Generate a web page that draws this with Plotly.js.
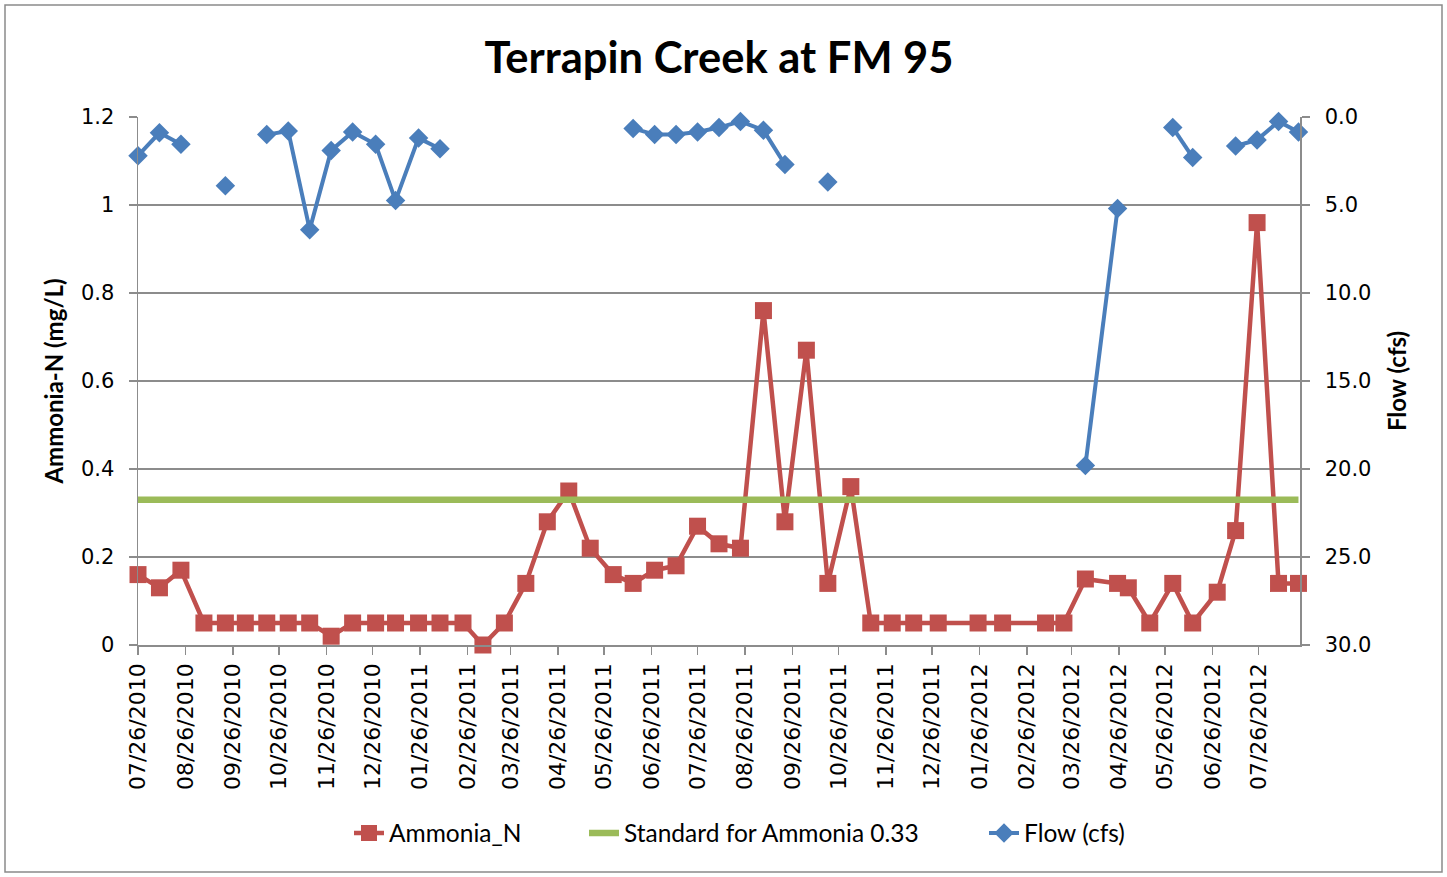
<!DOCTYPE html>
<html>
<head>
<meta charset="utf-8">
<script src="https://cdn.plot.ly/plotly-3.0.1.min.js"></script>
<style>
  html, body { margin: 0; padding: 0; background: #ffffff; }
  #chart { width: 1447px; height: 877px; }
</style>
</head>
<body>
<div id="chart"></div>
<script>
// Sample dates
const dates = [
  '2010-07-26','2010-08-09','2010-08-23','2010-09-07','2010-09-21','2010-10-04','2010-10-18',
  '2010-11-01','2010-11-15','2010-11-29','2010-12-13','2010-12-28','2011-01-10','2011-01-25',
  '2011-02-08','2011-02-23','2011-03-08','2011-03-22','2011-04-05','2011-04-19','2011-05-03',
  '2011-05-17','2011-06-01','2011-06-14','2011-06-28','2011-07-12','2011-07-26','2011-08-09',
  '2011-08-23','2011-09-07','2011-09-21','2011-10-05','2011-10-19','2011-11-03','2011-11-16',
  '2011-11-30','2011-12-14','2011-12-30','2012-01-25','2012-02-10','2012-03-09','2012-03-21',
  '2012-04-04','2012-04-25','2012-05-02','2012-05-16','2012-05-31','2012-06-13','2012-06-29',
  '2012-07-11','2012-07-25','2012-08-08','2012-08-21'
];

// Ammonia-N (mg/L)
const ammonia = [
  0.16,0.13,0.17,0.05,0.05,0.05,0.05,0.05,0.05,0.02,0.05,0.05,0.05,0.05,0.05,0.05,
  0,0.05,0.14,0.28,0.35,0.22,0.16,0.14,0.17,0.18,0.27,0.23,0.22,0.76,0.28,0.67,0.14,0.36,
  0.05,0.05,0.05,0.05,0.05,0.05,0.05,0.05,
  0.15,0.14,0.13,0.05,0.14,0.05,0.12,0.26,0.96,0.14,0.14
];

// Flow (cfs), null where not measured
const flow = [
  2.2,0.9,1.55,null,3.9,null,1.0,0.8,6.4,1.9,0.85,1.55,4.75,1.2,1.8,
  null,null,null,null,null,null,null,null,
  0.65,1.0,1.0,0.85,0.6,0.25,0.75,2.7,null,3.7,
  null,null,null,null,null,null,null,null,null,
  19.8,5.2,null,null,0.6,2.3,null,1.65,1.3,0.25,0.85
];

const standardValue = 0.33;
const standard = dates.map(() => standardValue);

// X-axis tick positions and labels
const tickDates = [
  '2010-07-26','2010-08-26','2010-09-26','2010-10-26','2010-11-26','2010-12-26',
  '2011-01-26','2011-02-26','2011-03-26','2011-04-26','2011-05-26','2011-06-26',
  '2011-07-26','2011-08-26','2011-09-26','2011-10-26','2011-11-26','2011-12-26',
  '2012-01-26','2012-02-26','2012-03-26','2012-04-26','2012-05-26','2012-06-26','2012-07-26'
];
const tickLabels = [
  '07/26/2010','08/26/2010','09/26/2010','10/26/2010','11/26/2010','12/26/2010',
  '01/26/2011','02/26/2011','03/26/2011','04/26/2011','05/26/2011','06/26/2011',
  '07/26/2011','08/26/2011','09/26/2011','10/26/2011','11/26/2011','12/26/2011',
  '01/26/2012','02/26/2012','03/26/2012','04/26/2012','05/26/2012','06/26/2012','07/26/2012'
];

const seriesNames = ['Ammonia_N', 'Standard for Ammonia 0.33', 'Flow (cfs)'];
const titleText = 'Terrapin Creek at FM 95';
const leftTitle = 'Ammonia-N (mg/L)';
const rightTitle = 'Flow (cfs)';

const tickFont = { family: 'DejaVu Sans', size: 22, color: '#000000' };
const calibriLike = 'Lato';
const gridColor = '#8c8c8c';

const L = 138, R = 1300, T = 117, B = 645;
const W = 1447, H = 877;
const pw = R - L, ph = B - T;
const px = v => (v - L) / pw;
const py = v => (B - v) / ph;

const traces = [
  {
    x: dates, y: ammonia, name: seriesNames[0], type: 'scatter', mode: 'lines+markers',
    line: { color: '#C0504D', width: 4.5 },
    marker: { symbol: 'square', size: 17, color: '#C0504D' },
    cliponaxis: false, yaxis: 'y', legend: 'legend'
  },
  {
    x: dates, y: standard, name: seriesNames[1], type: 'scatter', mode: 'lines',
    line: { color: '#9BBB59', width: 6.5 },
    cliponaxis: false, yaxis: 'y', legend: 'legend2'
  },
  {
    x: dates, y: flow, name: seriesNames[2], type: 'scatter', mode: 'lines+markers',
    line: { color: '#4A7EBB', width: 4 },
    marker: { symbol: 'diamond', size: 15, color: '#4A7EBB' },
    connectgaps: false, cliponaxis: false, yaxis: 'y2', legend: 'legend3'
  }
];

function legendAt(xPix) {
  return {
    orientation: 'h',
    x: px(xPix), xanchor: 'left', xref: 'paper',
    y: py(833), yanchor: 'middle', yref: 'paper',
    font: { family: calibriLike, size: 24.5, color: '#000000' },
    bgcolor: 'rgba(0,0,0,0)', borderwidth: 0
  };
}

const layout = {
  width: W, height: H,
  margin: { l: L, r: W - R, t: T, b: H - B, pad: 0 },
  paper_bgcolor: '#ffffff', plot_bgcolor: '#ffffff',
  showlegend: true,
  title: {
    text: '<b>' + titleText + '</b>',
    font: { family: calibriLike, size: 43.5, color: '#000000' },
    x: 0.5, xanchor: 'center', xref: 'paper',
    y: 1 - 58 / H, yanchor: 'middle', yref: 'container'
  },
  xaxis: {
    type: 'date',
    range: ['2010-07-26', '2012-08-22'],
    tickmode: 'array', tickvals: tickDates, ticktext: tickLabels,
    tickangle: -90,
    tickfont: tickFont,
    ticks: 'outside', ticklen: 8, tickwidth: 1.5, tickcolor: gridColor,
    showline: true, linecolor: gridColor, linewidth: 1.5,
    showgrid: false, zeroline: false,
    fixedrange: true
  },
  yaxis: {
    range: [0, 1.2], dtick: 0.2, tick0: 0,
    tickfont: { family: 'DejaVu Sans', size: 21, color: '#000000' }, ticklabelstandoff: 10,
    ticks: 'outside', ticklen: 8, tickwidth: 1.5, tickcolor: gridColor,
    showline: true, linecolor: gridColor, linewidth: 1.5,
    showgrid: true, gridcolor: gridColor, gridwidth: 1.5,
    zeroline: false,
    title: { text: '<b>' + leftTitle + '</b>', font: { family: calibriLike, size: 24, color: '#000000' }, standoff: 10 },
    fixedrange: true
  },
  yaxis2: {
    overlaying: 'y', side: 'right',
    range: [30, 0], dtick: 5, tick0: 0, tickformat: '.1f',
    tickfont: { family: 'DejaVu Sans', size: 21, color: '#000000' }, ticklabelstandoff: 11,
    ticks: 'outside', ticklen: 8, tickwidth: 1.5, tickcolor: gridColor,
    showline: true, linecolor: gridColor, linewidth: 1.5,
    showgrid: false, zeroline: false,
    title: { text: '<b>' + rightTitle + '</b>', font: { family: calibriLike, size: 24, color: '#000000' }, standoff: 18 },
    fixedrange: true
  },
  legend: legendAt(349),
  legend2: legendAt(584),
  legend3: legendAt(984),
  shapes: [
    {
      type: 'rect', xref: 'paper', yref: 'paper',
      x0: px(5), x1: px(1442), y0: py(872), y1: py(5),
      line: { color: '#8a8a8a', width: 1.5 }, fillcolor: 'rgba(0,0,0,0)', layer: 'below'
    }
  ],
  hovermode: false
};

Plotly.newPlot('chart', traces, layout, { displayModeBar: false, staticPlot: true });
</script>
</body>
</html>
